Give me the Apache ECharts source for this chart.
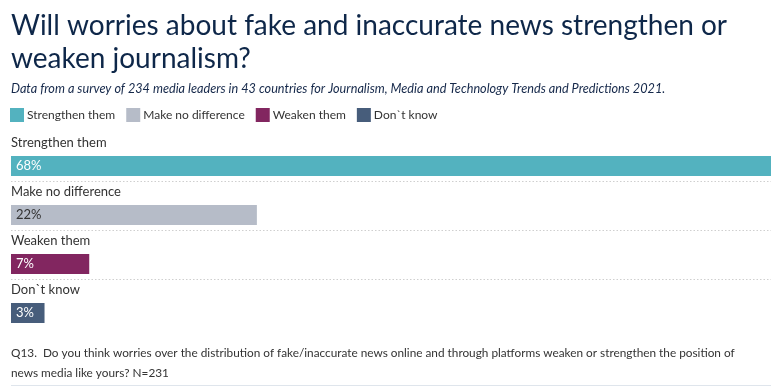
<!DOCTYPE html>
<html>
<head>
<meta charset="utf-8">
<script src="https://cdn.jsdelivr.net/npm/echarts@6/dist/echarts.min.js"></script>
<style>
html,body{margin:0;padding:0;background:#fff;}
#chart{width:784px;height:387px;}
</style>
</head>
<body>
<div id="chart"></div>
<script>
const categories = ['Strengthen them', 'Make no difference', 'Weaken them', 'Don`t know'];
const values = [68, 22, 7, 3];
const colors = ['#53b2bf', '#b6bcc8', '#822660', '#475d7b'];
const labelColors = ['#ffffff', '#333333', '#ffffff', '#ffffff'];

const titleText = 'Will worries about fake and inaccurate news strengthen or\nweaken journalism?';
const subtitleText = 'Data from a survey of 234 media leaders in 43 countries for Journalism, Media and Technology Trends and Predictions 2021.';
const footnoteText = 'Q13.  Do you think worries over the distribution of fake/inaccurate news online and through platforms weaken or strengthen the position of\nnews media like yours? N=231';

const FONT = 'Lato, "Open Sans", sans-serif';

const realSeries = categories.map((name, i) => ({
  name: name,
  type: 'bar',
  stack: 'main',
  barWidth: 20,
  barGap: '0%',
  itemStyle: { color: colors[i] },
  label: {
    show: true,
    position: 'insideLeft',
    distance: 5,
    formatter: '{c}%',
    color: labelColors[i],
    fontSize: 13,
    fontFamily: FONT
  },
  data: categories.map((c, j) => (j === i ? values[i] : '-'))
}));

const spacer = {
  name: 'spacer',
  type: 'bar',
  stack: 'spacer',
  barWidth: 19,
  barGap: '0%',
  silent: true,
  itemStyle: { color: 'rgba(0,0,0,0)' },
  data: categories.map(() => 0)
};

const chart = echarts.init(document.getElementById('chart'), null, { renderer: 'canvas' });
chart.setOption({
  animation: false,
  backgroundColor: '#ffffff',
  title: [
    {
      text: titleText,
      left: 11,
      top: 9,
      padding: 0,
      textStyle: { fontFamily: FONT, fontSize: 28, fontWeight: 'normal', color: '#0e2749', lineHeight: 33 }
    },
    {
      text: subtitleText,
      left: 11,
      top: 82,
      padding: 0,
      textStyle: { fontFamily: FONT, fontSize: 12.7, fontStyle: 'italic', fontWeight: 'normal', color: '#15284a' }
    },
    {
      text: footnoteText,
      left: 11,
      top: 343,
      padding: 0,
      textStyle: { fontFamily: FONT, fontSize: 11.8, fontWeight: 'normal', color: '#333333', lineHeight: 20 }
    }
  ],
  legend: {
    data: categories,
    left: 10,
    top: 108,
    padding: 0,
    icon: 'rect',
    itemWidth: 14,
    itemHeight: 14,
    itemGap: 11,
    textStyle: { fontFamily: FONT, fontSize: 12, color: '#333333', padding: [0, 0, 0, -2] }
  },
  grid: { left: 11, right: 13, top: 132, bottom: 59, containLabel: false },
  xAxis: {
    type: 'value',
    min: 0,
    max: 68,
    show: false
  },
  yAxis: {
    type: 'category',
    data: categories,
    inverse: true,
    axisLine: { show: false },
    axisTick: { show: false },
    axisLabel: {
      inside: true,
      margin: 0,
      align: 'left',
      verticalAlign: 'bottom',
      lineHeight: 27,
      color: '#333333',
      fontSize: 13,
      fontFamily: FONT
    },
    splitLine: {
      show: true,
      showMinLine: false,
      showMaxLine: false,
      lineStyle: { type: [1.5, 2], color: '#cfcfcf', width: 1 }
    }
  },
  graphic: [
    {
      type: 'rect',
      left: 11,
      bottom: 1,
      shape: { width: 760, height: 1 },
      style: { fill: '#dfe5ec' }
    }
  ],
  series: [spacer].concat(realSeries)
});
</script>
</body>
</html>
